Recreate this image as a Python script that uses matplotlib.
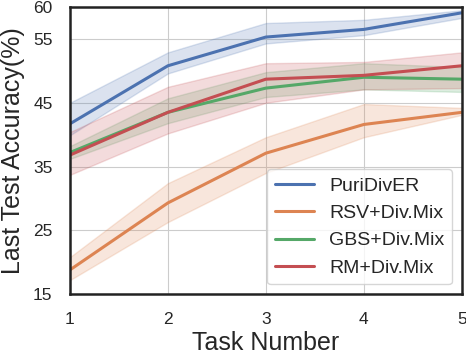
import matplotlib
matplotlib.use("Agg")
import matplotlib.pyplot as plt
import seaborn as sns
import numpy as np

sns.set_style("whitegrid")
plt.rcParams['font.family'] = ['Liberation Sans', 'DejaVu Sans']

tasks = [1, 2, 3, 4, 5]
names = ["PuriDivER", "RSV+Div.Mix", "GBS+Div.Mix", "RM+Div.Mix"]

# mean accuracy per task
puri = [41.7, 50.8, 55.3, 56.5, 59.1]
rsv = [18.8, 29.3, 37.1, 41.6, 43.5]
gbs = [37.2, 43.5, 47.3, 49.0, 48.7]
rm = [36.8, 43.5, 48.7, 49.3, 50.8]

# shaded interval (lower / upper)
puri_lo = [39.9, 49.6, 54.3, 55.6, 58.3]
puri_hi = [45.0, 52.9, 57.5, 58.0, 59.5]
rsv_lo = [17.2, 26.3, 34.0, 39.6, 43.1]
rsv_hi = [20.8, 32.4, 39.6, 44.8, 44.2]
gbs_lo = [36.2, 41.8, 45.9, 47.1, 46.7]
gbs_hi = [38.2, 45.7, 49.8, 51.2, 50.6]
rm_lo = [33.7, 40.2, 45.0, 47.1, 47.3]
rm_hi = [40.4, 47.5, 51.2, 51.4, 52.9]

means = [puri, rsv, gbs, rm]
lows = [puri_lo, rsv_lo, gbs_lo, rm_lo]
highs = [puri_hi, rsv_hi, gbs_hi, rm_hi]
colors = sns.color_palette("deep")[:4]

fig = plt.figure(figsize=(4.66, 3.54), dpi=100)
ax = fig.add_axes([0.150, 0.169, 0.841, 0.811])

for m, lo, hi, c, n in zip(means, lows, highs, colors, names):
    ax.fill_between(tasks, lo, hi, color=c, alpha=0.2, linewidth=1)
    ax.plot(tasks, m, color=c, linewidth=2.2, label=n)

ax.set_xlim(1, 5)
ax.set_ylim(15, 60)
ax.set_xticks(tasks)
ax.set_yticks([15, 25, 35, 45, 55, 60])
ax.tick_params(labelsize=12.5, pad=9)
ax.set_xlabel("Task Number", fontsize=18, labelpad=3)
ax.set_ylabel("Last Test Accuracy(%)", fontsize=18, labelpad=6)
for s in ax.spines.values():
    s.set_color("#222222")
    s.set_linewidth(1.8)

ax.legend(loc="lower right", fontsize=14, borderaxespad=0.5)
fig.savefig("out.png", dpi=100)
